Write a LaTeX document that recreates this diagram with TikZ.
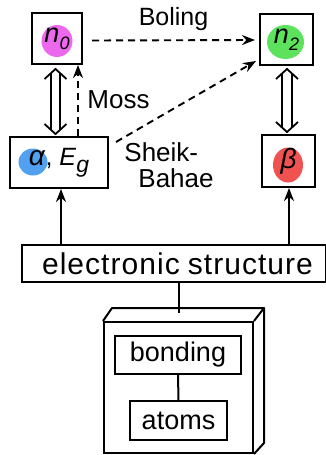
\documentclass[tikz,border=0pt]{standalone}
\usepackage{fontspec}
\setmainfont{Liberation Sans}
\newfontfamily\spacedfont[LetterSpace=3.5]{Liberation Sans}
\usetikzlibrary{arrows.meta,calc}
\definecolor{cmag}{RGB}{236,104,236}
\definecolor{cgreen}{RGB}{92,226,92}
\definecolor{cblue}{RGB}{82,160,240}
\definecolor{cred}{RGB}{240,82,82}
\newcommand{\fsz}[1]{\fontsize{#1}{#1}\selectfont}
\newcommand{\symsub}[3]{\fsz{#1}\textit{#2}\raisebox{-7pt}{\fsz{18}\textit{#3}}}
% open double-shafted arrow with heads at both ends, between two named coordinates
\newcommand{\dblarrow}[2]{%
  \draw[dblline, line join=miter] ($(#1)+(-11,10)$) -- (#1) -- ($(#1)+(11,10)$);
  \draw[dblline, line join=miter] ($(#2)+(-11,-10)$) -- (#2) -- ($(#2)+(11,-10)$);
  \draw[dblline] ($(#1)+(-4.7,4.3)$) -- ($(#2)+(-4.7,-4.3)$);
  \draw[dblline] ($(#1)+(4.7,4.3)$) -- ($(#2)+(4.7,-4.3)$);}
\begin{document}
\begin{tikzpicture}[x=1pt,y=-1pt,
  box/.style={draw, line width=2pt, inner sep=0pt},
  lbl/.style={inner sep=0pt, font=\fsz{25}},
  dasharrow/.style={line width=1.9pt, dash pattern=on 7pt off 5pt, -{Stealth[length=13pt,width=10pt]}},
  solidarrow/.style={line width=2pt, -{Stealth[length=13pt,width=10pt]}},
  dblline/.style={line width=1.8pt},
  plain/.style={line width=2pt}]
\useasboundingbox (0,0) rectangle (326,455);
% colored discs
\fill[cmag] (57,41) ellipse [x radius=15.5, y radius=16];
\fill[cgreen] (285.5,42) ellipse [x radius=18.5, y radius=17];
\fill[cblue] (33,162) ellipse [x radius=14.5, y radius=13.5];
\fill[cred] (288,165) ellipse [x radius=15, y radius=17.5];
% boxes
\node[box, minimum width=50pt, minimum height=51pt] (n0) at (57,38.5) {\symsub{27}{n}{0}};
\node[box, minimum width=53pt, minimum height=51pt] (n2) at (286.5,39.5) {\symsub{27}{n}{2}};
\node[box, minimum width=98pt, minimum height=51pt] (alpha) at (59,162.5)
  {\fsz{28}\textit{α}\fsz{25}, \textit{E}\raisebox{-7pt}{\fsz{23}\textit{g}}};
\node[box, minimum width=53pt, minimum height=52pt] (beta) at (288.5,161) {\fsz{28}\textit{β}};
\node[box, minimum width=304pt, minimum height=37pt] (elec) at (173.5,263.5)
  {\spacedfont\fsz{30}\hspace*{8pt}electronic\hspace{8pt}structure};
% 3D slab
\node[box, minimum width=149pt, minimum height=131pt] (slab) at (178.5,387.5) {};
\draw[plain, line join=round] (slab.north west) -- ++(9,-13) -- ($(slab.north east)+(10,-13)$) -- (slab.north east);
\draw[plain, line join=round] ($(slab.north east)+(10,-13)$) -- ($(slab.south east)+(10,-11)$) -- (slab.south east);
\coordinate (slabtop) at ($(slab.north)+(0,-8)$);
\node[box, minimum width=126pt, minimum height=38pt] (bond) at (178,355) {\fsz{27}bonding};
\node[box, minimum width=97pt, minimum height=39pt] (atoms) at (178.5,420.5) {\fsz{27}atoms};
% connectors
\draw[plain] (bond) -- (atoms);
\draw[plain] (elec.south -| slabtop) -- (slabtop);
\draw[solidarrow] (elec.north -| 61,0) -- (alpha.south -| 61,0);
\draw[solidarrow] (elec.north -| 289,0) -- (beta.south -| 289,0);
\coordinate (d1t) at ($(n0.south -| 55.5,0)+(0,4)$);
\coordinate (d1b) at ($(alpha.north -| 55.5,0)+(0,-2)$);
\coordinate (d2t) at ($(n2.south -| 287,0)+(0,3)$);
\coordinate (d2b) at ($(beta.north -| 287,0)+(0,-2)$);
\dblarrow{d1t}{d1b}
\dblarrow{d2t}{d2b}
\draw[dasharrow] ($(n0.east)+(9,2)$) -- ($(n2.west)+(-4,0.5)$) node[lbl, midway, above=9pt] {Boling};
\draw[dasharrow] (alpha.north -| 78,0) -- (n0.south -| 78,0);
\node[lbl, font=\fsz{26}] (moss) at (118.5,100) {Moss};
\draw[dasharrow] ($(alpha.north east)+(7,6)$) -- ($(n2.south west)+(-3,-5)$);
\node[lbl, font=\fsz{26}, align=left] (sheik) at (169,165) {Sheik-\\\hspace*{14pt}Bahae};
\end{tikzpicture}
\end{document}
